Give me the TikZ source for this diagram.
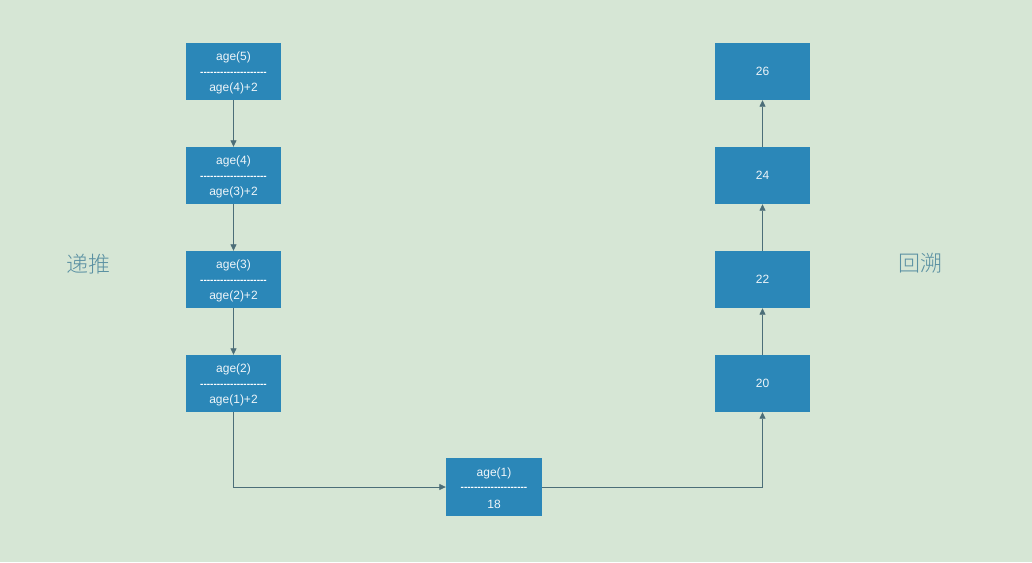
\documentclass[tikz,border=0pt]{standalone}
\usepackage{fontspec}
\setmainfont{Liberation Sans}
\newfontfamily\cjk{Noto Sans CJK SC Light}
\usetikzlibrary{arrows.meta}
\definecolor{bg}{HTML}{D6E6D5}
\definecolor{boxc}{HTML}{2B87B8}
\definecolor{linec}{HTML}{4C6E78}
\definecolor{cjkc}{HTML}{5A90A2}
\newcommand\hy{\mbox{-}}
\newcommand\hyrow{\hy\hy\hy\hy\hy\hy\hy\hy\hy\hy\hy\hy\hy\hy\hy\hy\hy\hy\hy\hy}
\begin{document}
\begin{tikzpicture}[x=1pt,y=-1pt,
  agebox/.style={fill=boxc,draw=none,minimum width=95pt,minimum height=57pt,inner sep=0pt},
  lbl/.style={text=white!92!boxc,font=\fontsize{12}{13}\selectfont,inner sep=0pt},
  dsh/.style={text=white,font=\fontsize{10}{10}\selectfont\bfseries,inner sep=0pt},
  conn/.style={draw=linec,line width=0.8pt,-{Triangle[length=6.5pt,width=6pt]}},
  side/.style={text=cjkc,font=\cjk\fontsize{22}{24}\selectfont}]
\fill[bg] (0,0) rectangle (1032,562);
\useasboundingbox (0,0) rectangle (1032,562);
% left column
\foreach \n/\y/\a/\b in {a5/71.5/age(5)/age(4)+2, a4/175.5/age(4)/age(3)+2, a3/279.5/age(3)/age(2)+2, a2/383.5/age(2)/age(1)+2}{
  \node[agebox] (\n) at (233.5,\y) {};
  \node[lbl] (\n t) at ([yshift=14pt]\n.center) {\a};
  \node[dsh] (\n d) at ([yshift=-2pt]\n.center) {\hyrow};
  \node[lbl] (\n b) at ([yshift=-17pt]\n.center) {\b};
}
% bottom
\node[agebox,minimum width=96pt,minimum height=58pt] (a1) at (494,487) {};
\node[lbl] (a1t) at ([yshift=14pt]a1.center) {age(1)};
\node[dsh] (a1d) at ([yshift=-2pt]a1.center) {\hyrow};
\node[lbl] (a1b) at ([yshift=-17pt]a1.center) {18};
% right column
\foreach \n/\y/\v in {r26/71.5/26, r24/175.5/24, r22/279.5/22, r20/383.5/20}{
  \node[agebox] (\n) at (762.5,\y) {};
  \node[lbl] (\n t) at (\n.center) {\v};
}
% connectors
\draw[conn] (a5) -- (a4);
\draw[conn] (a4) -- (a3);
\draw[conn] (a3) -- (a2);
\draw[conn] (a2.south) |- (a1.west);
\draw[conn] (a1.east) -| (r20.south);
\draw[conn] (r20) -- (r22);
\draw[conn] (r22) -- (r24);
\draw[conn] (r24) -- (r26);
% side labels
\node[side] (push) at (88,264) {递推};
\node[side] (back) at (920,263) {回溯};
\end{tikzpicture}
\end{document}
